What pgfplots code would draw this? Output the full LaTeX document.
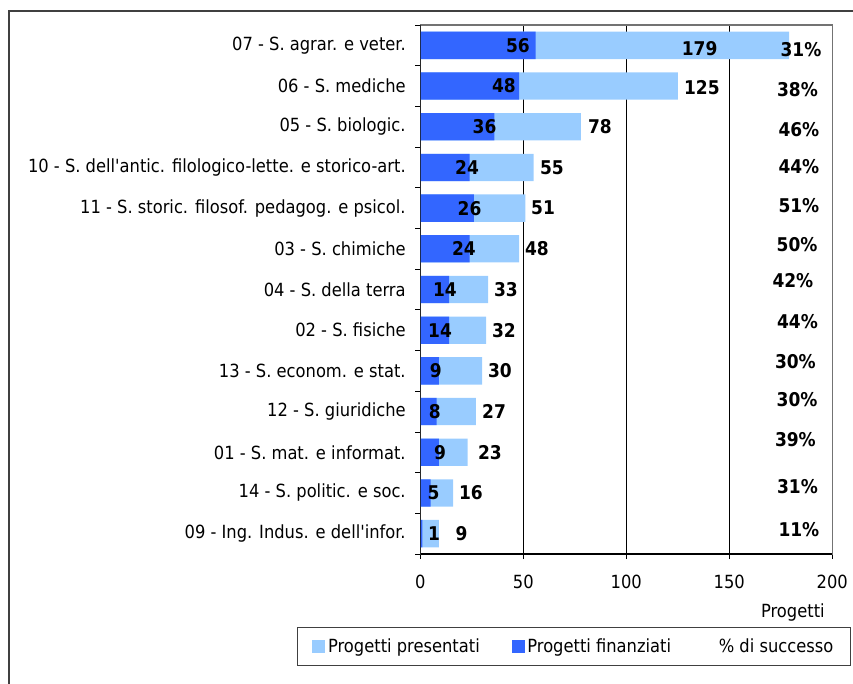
\documentclass[border=0pt]{standalone}
\usepackage{pgfplots}
\pgfplotsset{compat=1.18}
\usepackage{pgfplotstable}
\usepackage{fontspec}
\setmainfont{DejaVu Sans Condensed}[BoldFont={DejaVu Sans Condensed Bold}]

\definecolor{presc}{HTML}{99CCFF}
\definecolor{finc}{HTML}{3366FF}

% y: 12 = top category
\pgfplotstableread{
y pres fin
12 179 56
11 125 48
10 78 36
9 55 24
8 51 26
7 48 24
6 33 14
5 32 14
4 30 9
3 27 8
2 23 9
1 16 5
0 9 1
}\bars

% label positions (centre of text)
\pgfplotstableread{
x y v
135.6 11.93 179
136.7 10.96 125
87.2 10 78
63.9 9 55
59.6 8 51
56.6 7 48
41.6 6 33
40.6 5 32
38.7 4 30
35.8 3 27
33.8 2 23
24.6 1 16
20.0 0 9
}\preslab

\pgfplotstableread{
x y v
47.4 12 56
40.6 11 48
31.2 10 36
22.7 9 24
23.9 8 26
21.2 7 24
12.0 6 14
9.6 5 14
7.6 4 9
7.1 3 8
9.6 2 9
6.4 1 5
6.7 0 1
}\finlab

\pgfplotstableread{
x y v
184.8 11.89 31
183.1 10.92 38
183.8 9.94 46
183.8 9.02 44
183.8 8.05 51
182.9 7.11 50
180.9 6.23 42
183.1 5.21 44
182.1 4.24 30
182.9 3.30 30
182.1 2.32 39
183.1 1.15 31
183.8 0.11 11
}\pctlab

\begin{document}
\begin{tikzpicture}
\useasboundingbox (0,0) rectangle (639.75pt,-513pt);
\draw[line width=1.2pt, black!75] (6.6pt,-513pt) -- (6.6pt,-8.1pt) -- (639.75pt,-8.1pt);
\begin{axis}[
  at={(315.2pt,-18.75pt)}, anchor=north west,
  scale only axis, width=309pt, height=396.75pt,
  xmin=0, xmax=200, ymin=-0.5, ymax=12.5,
  xtick={0,50,...,200},
  ytick={0,...,12},
  yticklabels={09 - Ing. Indus. e dell\textquotesingle infor.,
    14 - S. politic. e soc.,
    01 - S. mat. e informat.,
    12 - S. giuridiche,
    13 - S. econom. e stat.,
    02 - S. fisiche,
    04 - S. della terra,
    03 - S. chimiche,
    11 - S. storic. filosof. pedagog. e psicol.,
    10 - S. dell\textquotesingle antic. filologico-lette. e storico-art.,
    05 - S. biologic.,
    06 - S. mediche,
    07 - S. agrar. e veter.},
  minor ytick={-0.5,0.5,...,12.5},
  tick pos=left, tick align=outside,
  major tick length=3.75pt, minor tick length=3.75pt,
  major y tick style={draw=none},
  minor y tick style={black, line width=0.6pt},
  major x tick style={black, line width=0.6pt},
  xmajorgrids, major x grid style={black, line width=0.6pt},
  axis line style={black!55, line width=0.8pt},
  tick label style={font=\fontsize{13.6}{15}\selectfont},
  /pgf/number format/assume math mode=true,
  xticklabel style={inner sep=0pt, anchor=north, yshift=-12pt},
  yticklabel style={inner sep=0pt, anchor=east, xshift=-7pt},
  xlabel={Progetti},
  xlabel style={font=\fontsize{13.6}{15}\selectfont, inner sep=0pt,
    at={(axis description cs:1,0)}, anchor=north east,
    xshift=-5.5pt, yshift=-36.75pt},
  legend columns=3,
  legend cell align=left,
  legend style={at={(axis description cs:-0.2985,-0.1374)}, anchor=north west,
    draw=black!75, line width=0.8pt,
    font=\fontsize{13.6}{15}\selectfont,
    inner xsep=11pt, inner ysep=6.5pt,
    /tikz/every even column/.append style={column sep=22pt}},
  every node near coord/.append style={anchor=center, black,
    font=\fontsize{14.2}{16}\selectfont\bfseries},
]
\addplot[xbar, bar width=20.5pt, bar shift=0pt, fill=presc, draw=none,
  legend image code/.code={\fill[presc] (0pt,-4.875pt) rectangle (9.75pt,4.875pt);}]
  table[x=pres, y=y] {\bars};
\addlegendentry{Progetti presentati}
\addplot[xbar, bar width=20.5pt, bar shift=0pt, fill=finc, draw=none,
  legend image code/.code={\fill[finc] (0pt,-4.875pt) rectangle (9.75pt,4.875pt);}]
  table[x=fin, y=y] {\bars};
\addlegendentry{Progetti finanziati}
\addplot[draw=none, mark=none, point meta=explicit,
  nodes near coords={\pgfmathprintnumber{\pgfplotspointmeta}\%},
  legend image code/.code={\path (0pt,-4.875pt) rectangle (9.75pt,4.875pt);}]
  table[x=x, y=y, meta=v] {\pctlab};
\addlegendentry{\% di successo}
\addplot[forget plot, draw=none, mark=none, point meta=explicit, nodes near coords]
  table[x=x, y=y, meta=v] {\preslab};
\addplot[forget plot, draw=none, mark=none, point meta=explicit, nodes near coords]
  table[x=x, y=y, meta=v] {\finlab};
\draw[black, line width=0.9pt] (axis cs:0,12.5) -- (axis cs:0,-0.5) -- (axis cs:200,-0.5);
\end{axis}
\end{tikzpicture}
\end{document}
